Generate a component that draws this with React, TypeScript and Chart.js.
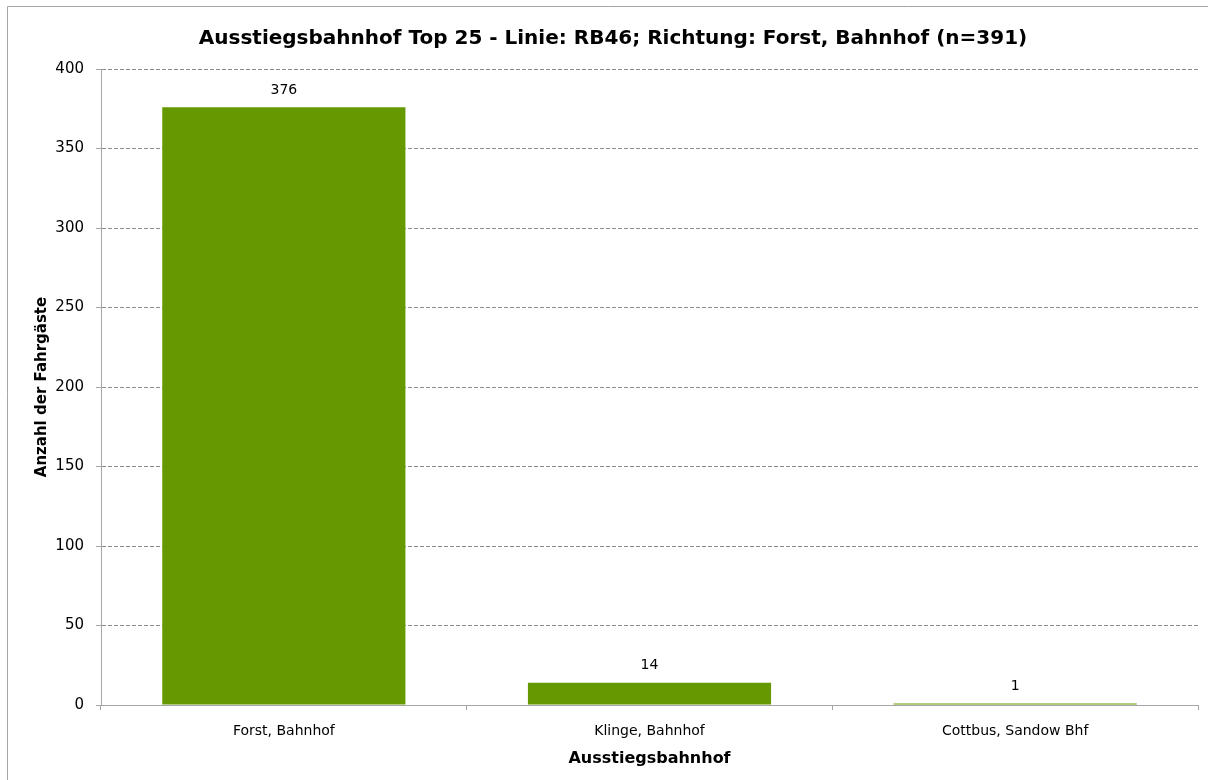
import React, { useEffect, useRef } from "react";
import { Chart, registerables } from "chart.js";

Chart.register(...registerables);

const categories: string[] = ["Forst, Bahnhof", "Klinge, Bahnhof", "Cottbus, Sandow Bhf"];
const values: number[] = [376, 14, 1];
const titleText = "Ausstiegsbahnhof Top 25 - Linie: RB46; Richtung: Forst, Bahnhof (n=391)";
const yTitle = "Anzahl der Fahrgäste";
const xTitle = "Ausstiegsbahnhof";

const FONT = "'DejaVu Sans', Verdana, sans-serif";

const extras = {
  id: "extras",
  afterDraw(chart: any) {
    const ctx = chart.ctx;
    ctx.save();
    ctx.strokeStyle = "#a6a6a6";
    ctx.lineWidth = 1;
    ctx.beginPath();
    ctx.moveTo(7.5, 800);
    ctx.lineTo(7.5, 6.5);
    ctx.lineTo(1220, 6.5);
    ctx.stroke();
    const meta = chart.getDatasetMeta(0);
    ctx.fillStyle = "#000";
    ctx.font = "14px " + FONT;
    ctx.textAlign = "center";
    ctx.textBaseline = "middle";
    meta.data.forEach((bar: any, i: number) => {
      ctx.fillText(String(values[i]), bar.x, bar.y - 17);
    });
    ctx.restore();
  },
};

export default function App() {
  const ref = useRef<HTMLCanvasElement>(null);
  useEffect(() => {
    document.body.style.margin = "0";
    const chart = new Chart(ref.current!, {
      type: "bar",
      data: {
        labels: categories,
        datasets: [
          {
            data: values,
            backgroundColor: "#669900",
            borderWidth: 0,
            categoryPercentage: 1,
            barPercentage: 0.665,
          },
        ],
      },
      options: {
        responsive: false,
        animation: false,
        maintainAspectRatio: false,
        layout: { padding: { left: 28, right: 10, top: 0, bottom: 0 } },
        plugins: {
          legend: { display: false },
          tooltip: { enabled: false },
          title: {
            display: true,
            text: titleText,
            color: "#000",
            font: { family: FONT, size: 20, weight: "bold" },
            padding: { top: 27, bottom: 18 },
          },
        },
        scales: {
          x: {
            grid: {
              offset: true,
              drawOnChartArea: false,
              tickLength: 5,
              color: "#a6a6a6",
            },
            border: { color: "#a6a6a6" },
            ticks: { color: "#000", font: { family: FONT, size: 14 }, padding: 13 },
            title: {
              display: true,
              text: xTitle,
              color: "#000",
              font: { family: FONT, size: 16, weight: "bold" },
              padding: { top: 6, bottom: 12 },
            },
            afterFit: (s: any) => {
              s.height = 75;
            },
          },
          y: {
            min: 0,
            max: 400,
            ticks: { stepSize: 50, color: "#000", font: { family: FONT, size: 15 }, padding: 12 },
            grid: {
              color: "#8c8c8c",
              tickLength: 5,
              tickColor: "#a6a6a6",
            } as any,
            border: { color: "#a6a6a6", dash: [4, 2] } as any,
            title: {
              display: true,
              text: yTitle,
              color: "#000",
              font: { family: FONT, size: 15, weight: "bold" },
              padding: { top: 5, bottom: 4 },
            },
            afterFit: (s: any) => {
              s.width = 73;
            },
          },
        },
      },
      plugins: [extras],
    });
    return () => chart.destroy();
  }, []);
  return (
    <div style={{ position: "fixed", left: 0, top: 0, width: 1208, height: 780 }}>
      <canvas ref={ref} width={1208} height={780} style={{ width: 1208, height: 780 }} />
    </div>
  );
}
